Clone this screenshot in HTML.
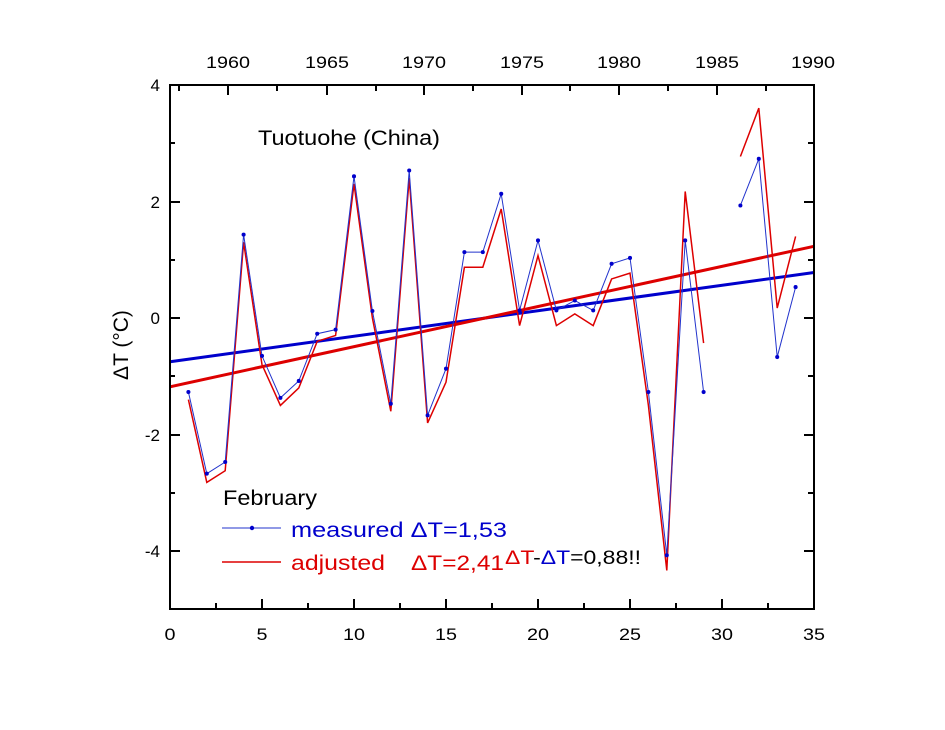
<!DOCTYPE html>
<html><head><meta charset="utf-8"><style>
html,body{margin:0;padding:0;background:#fff;}
svg{display:block;font-family:"Liberation Sans",Arial,sans-serif;}
</style></head><body>
<svg width="945" height="730" viewBox="0 0 945 730" xmlns="http://www.w3.org/2000/svg">
<rect width="945" height="730" fill="#fff"/>
<g transform="translate(170,318) scale(18.4,-58.3)" fill="none">
<line x1="0" y1="-0.75" x2="35" y2="0.78" stroke="#0000cc" stroke-width="3" vector-effect="non-scaling-stroke"/>
<line x1="0" y1="-1.18" x2="35" y2="1.23" stroke="#dd0000" stroke-width="3" vector-effect="non-scaling-stroke"/>
<polyline stroke="#dd0000" stroke-width="1.5" vector-effect="non-scaling-stroke" points="1,-1.4 2,-2.82 3,-2.62 4,1.3 5,-0.8 6,-1.5 7,-1.2 8,-0.4 9,-0.3 10,2.3 11,0 12,-1.6 13,2.4 14,-1.8 15,-1.1 16,0.87 17,0.87 18,1.87 19,-0.13 20,1.07 21,-0.13 22,0.07 23,-0.13 24,0.67 25,0.77 26,-1.5 27,-4.33 28,2.17 29,-0.43"/>
<polyline stroke="#dd0000" stroke-width="1.5" vector-effect="non-scaling-stroke" points="31,2.77 32,3.6 33,0.17 34,1.4"/>
<polyline stroke="#2233cc" stroke-width="1" vector-effect="non-scaling-stroke" points="1,-1.27 2,-2.67 3,-2.47 4,1.43 5,-0.65 6,-1.37 7,-1.08 8,-0.27 9,-0.2 10,2.43 11,0.12 12,-1.47 13,2.53 14,-1.67 15,-0.87 16,1.13 17,1.13 18,2.13 19,0.13 20,1.33 21,0.13 22,0.3 23,0.13 24,0.93 25,1.03 26,-1.27 27,-4.07 28,1.33 29,-1.27"/>
<polyline stroke="#2233cc" stroke-width="1" vector-effect="non-scaling-stroke" points="31,1.93 32,2.73 33,-0.67 34,0.53"/>
<g fill="#0000cc">
<ellipse cx="1" cy="-1.27" rx="0.11" ry="0.035"/><ellipse cx="2" cy="-2.67" rx="0.11" ry="0.035"/><ellipse cx="3" cy="-2.47" rx="0.11" ry="0.035"/><ellipse cx="4" cy="1.43" rx="0.11" ry="0.035"/><ellipse cx="5" cy="-0.65" rx="0.11" ry="0.035"/><ellipse cx="6" cy="-1.37" rx="0.11" ry="0.035"/><ellipse cx="7" cy="-1.08" rx="0.11" ry="0.035"/><ellipse cx="8" cy="-0.27" rx="0.11" ry="0.035"/><ellipse cx="9" cy="-0.2" rx="0.11" ry="0.035"/><ellipse cx="10" cy="2.43" rx="0.11" ry="0.035"/><ellipse cx="11" cy="0.12" rx="0.11" ry="0.035"/><ellipse cx="12" cy="-1.47" rx="0.11" ry="0.035"/><ellipse cx="13" cy="2.53" rx="0.11" ry="0.035"/><ellipse cx="14" cy="-1.67" rx="0.11" ry="0.035"/><ellipse cx="15" cy="-0.87" rx="0.11" ry="0.035"/><ellipse cx="16" cy="1.13" rx="0.11" ry="0.035"/><ellipse cx="17" cy="1.13" rx="0.11" ry="0.035"/><ellipse cx="18" cy="2.13" rx="0.11" ry="0.035"/><ellipse cx="19" cy="0.13" rx="0.11" ry="0.035"/><ellipse cx="20" cy="1.33" rx="0.11" ry="0.035"/><ellipse cx="21" cy="0.13" rx="0.11" ry="0.035"/><ellipse cx="22" cy="0.3" rx="0.11" ry="0.035"/><ellipse cx="23" cy="0.13" rx="0.11" ry="0.035"/><ellipse cx="24" cy="0.93" rx="0.11" ry="0.035"/><ellipse cx="25" cy="1.03" rx="0.11" ry="0.035"/><ellipse cx="26" cy="-1.27" rx="0.11" ry="0.035"/><ellipse cx="27" cy="-4.07" rx="0.11" ry="0.035"/><ellipse cx="28" cy="1.33" rx="0.11" ry="0.035"/><ellipse cx="29" cy="-1.27" rx="0.11" ry="0.035"/><ellipse cx="31" cy="1.93" rx="0.11" ry="0.035"/><ellipse cx="32" cy="2.73" rx="0.11" ry="0.035"/><ellipse cx="33" cy="-0.67" rx="0.11" ry="0.035"/><ellipse cx="34" cy="0.53" rx="0.11" ry="0.035"/>
</g>
</g>
<rect x="170" y="85" width="644" height="524" fill="none" stroke="#000" stroke-width="2"/>
<g stroke="#000" stroke-width="2">
<line x1="262" y1="609" x2="262" y2="599"/><line x1="354" y1="609" x2="354" y2="599"/><line x1="446" y1="609" x2="446" y2="599"/><line x1="538" y1="609" x2="538" y2="599"/><line x1="630" y1="609" x2="630" y2="599"/><line x1="722" y1="609" x2="722" y2="599"/>
<line x1="216" y1="609" x2="216" y2="603"/><line x1="308" y1="609" x2="308" y2="603"/><line x1="400" y1="609" x2="400" y2="603"/><line x1="492" y1="609" x2="492" y2="603"/><line x1="584" y1="609" x2="584" y2="603"/><line x1="676" y1="609" x2="676" y2="603"/><line x1="768" y1="609" x2="768" y2="603"/>
<line x1="228" y1="85" x2="228" y2="95"/><line x1="327" y1="85" x2="327" y2="95"/><line x1="424" y1="85" x2="424" y2="95"/><line x1="522" y1="85" x2="522" y2="95"/><line x1="619" y1="85" x2="619" y2="95"/><line x1="717" y1="85" x2="717" y2="95"/>
<line x1="179" y1="85" x2="179" y2="91"/><line x1="277" y1="85" x2="277" y2="91"/><line x1="376" y1="85" x2="376" y2="91"/><line x1="473" y1="85" x2="473" y2="91"/><line x1="570" y1="85" x2="570" y2="91"/><line x1="668" y1="85" x2="668" y2="91"/><line x1="766" y1="85" x2="766" y2="91"/>
<line x1="170" y1="202" x2="180" y2="202"/><line x1="170" y1="318" x2="180" y2="318"/><line x1="170" y1="435" x2="180" y2="435"/><line x1="170" y1="551" x2="180" y2="551"/>
<line x1="170" y1="143" x2="175" y2="143"/><line x1="170" y1="260" x2="175" y2="260"/><line x1="170" y1="376" x2="175" y2="376"/><line x1="170" y1="493" x2="175" y2="493"/>
<line x1="814" y1="202" x2="804" y2="202"/><line x1="814" y1="318" x2="804" y2="318"/><line x1="814" y1="435" x2="804" y2="435"/><line x1="814" y1="551" x2="804" y2="551"/>
<line x1="814" y1="143" x2="808" y2="143"/><line x1="814" y1="260" x2="808" y2="260"/><line x1="814" y1="376" x2="808" y2="376"/><line x1="814" y1="493" x2="808" y2="493"/>
</g>
<g font-size="17" fill="#000" text-anchor="middle">
<text x="170" y="640" textLength="11" lengthAdjust="spacingAndGlyphs">0</text><text x="262" y="640" textLength="11" lengthAdjust="spacingAndGlyphs">5</text><text x="354" y="640" textLength="22" lengthAdjust="spacingAndGlyphs">10</text><text x="446" y="640" textLength="22" lengthAdjust="spacingAndGlyphs">15</text><text x="538" y="640" textLength="22" lengthAdjust="spacingAndGlyphs">20</text><text x="630" y="640" textLength="22" lengthAdjust="spacingAndGlyphs">25</text><text x="722" y="640" textLength="22" lengthAdjust="spacingAndGlyphs">30</text><text x="814" y="640" textLength="22" lengthAdjust="spacingAndGlyphs">35</text>
<text x="228" y="68" textLength="44" lengthAdjust="spacingAndGlyphs">1960</text><text x="327" y="68" textLength="44" lengthAdjust="spacingAndGlyphs">1965</text><text x="424" y="68" textLength="44" lengthAdjust="spacingAndGlyphs">1970</text><text x="522" y="68" textLength="44" lengthAdjust="spacingAndGlyphs">1975</text><text x="619" y="68" textLength="44" lengthAdjust="spacingAndGlyphs">1980</text><text x="717" y="68" textLength="44" lengthAdjust="spacingAndGlyphs">1985</text><text x="813" y="68" textLength="44" lengthAdjust="spacingAndGlyphs">1990</text>
</g>
<g font-size="17" fill="#000" text-anchor="end">
<text x="160" y="91">4</text><text x="160" y="208">2</text><text x="160" y="324">0</text><text x="160" y="441">-2</text><text x="160" y="557">-4</text>
</g>
<text transform="translate(128,345) rotate(-90)" font-size="21" text-anchor="middle">ΔT (°C)</text>
<text x="258" y="145" font-size="21" textLength="182" lengthAdjust="spacingAndGlyphs">Tuotuohe (China)</text>
<text x="223" y="505" font-size="21" textLength="94" lengthAdjust="spacingAndGlyphs">February</text>
<line x1="222" y1="528" x2="281" y2="528" stroke="#2233cc" stroke-width="1"/>
<circle cx="252" cy="528" r="2.2" fill="#0000cc"/>
<text x="291" y="537" font-size="21" fill="#0000cc" textLength="216" lengthAdjust="spacingAndGlyphs">measured ΔT=1,53</text>
<line x1="222" y1="562" x2="281" y2="562" stroke="#dd0000" stroke-width="1.5"/>
<text x="291" y="570" font-size="21" fill="#dd0000" textLength="94" lengthAdjust="spacingAndGlyphs">adjusted</text>
<text x="411" y="570" font-size="21" fill="#dd0000" textLength="93" lengthAdjust="spacingAndGlyphs">ΔT=2,41</text>
<text x="505" y="564" font-size="19" textLength="136" lengthAdjust="spacingAndGlyphs"><tspan fill="#dd0000">ΔT</tspan>-<tspan fill="#0000cc">ΔT</tspan>=0,88!!</text>
</svg>
</body></html>
